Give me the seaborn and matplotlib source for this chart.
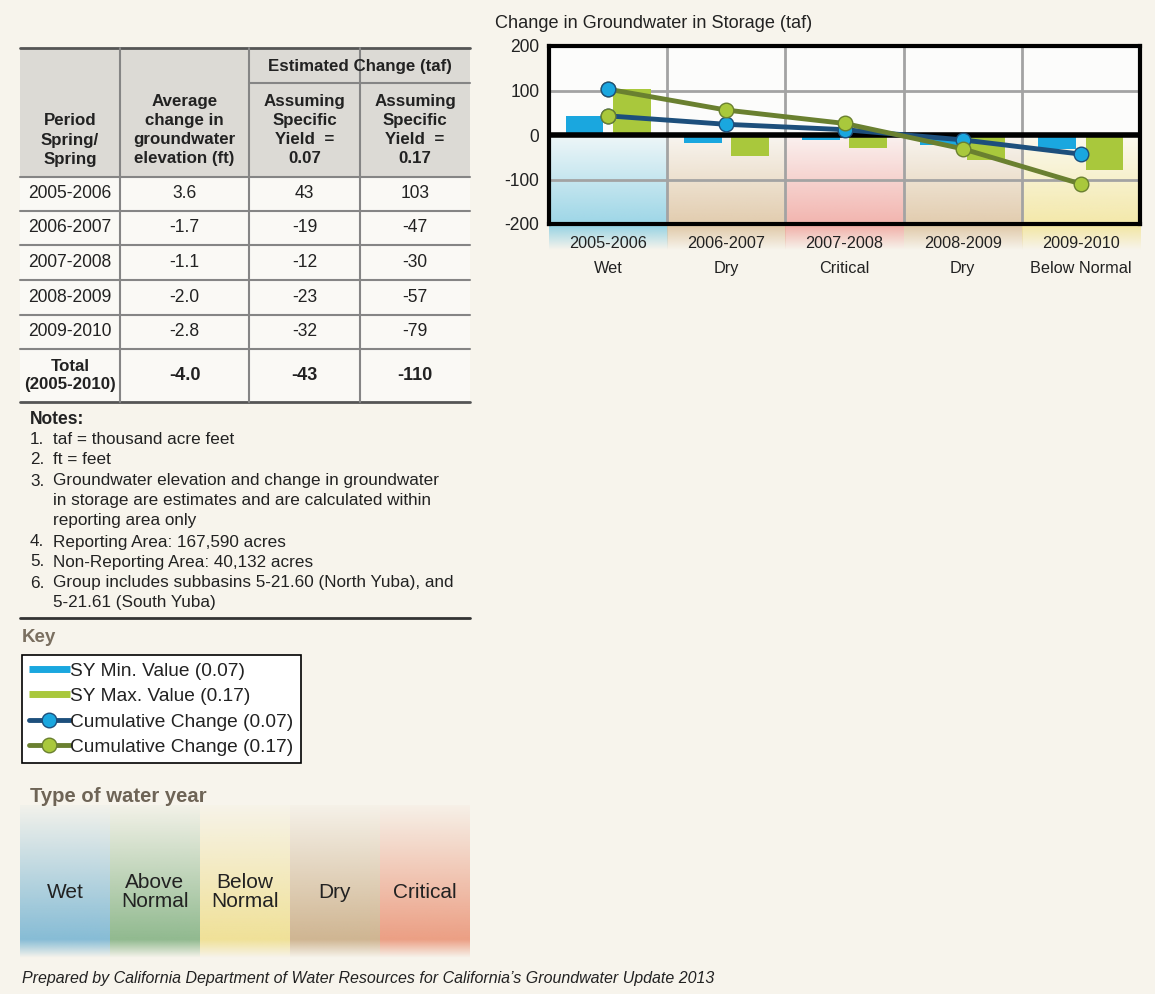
import numpy as np
import pandas as pd
import matplotlib
matplotlib.use("Agg")
import matplotlib.pyplot as plt
import seaborn as sns
from matplotlib import font_manager
from matplotlib.lines import Line2D
from matplotlib.patches import Rectangle
from matplotlib.colors import to_rgb

# data
periods = ["2005-2006", "2006-2007", "2007-2008", "2008-2009", "2009-2010"]
year_types = ["Wet", "Dry", "Critical", "Dry", "Below Normal"]
elev_change = ["3.6", "-1.7", "-1.1", "-2.0", "-2.8"]
sy_min = [43, -19, -12, -23, -32]
sy_max = [103, -47, -30, -57, -79]
total_label = "Total\n(2005-2010)"
total_elev = "-4.0"
total_min = -43
total_max = -110
y_ticks = [-200, -100, 0, 100, 200]
key_types = ["Wet", "Above Normal", "Below Normal", "Dry", "Critical"]
series_names = ["SY Min. Value (0.07)", "SY Max. Value (0.17)",
                "Cumulative Change (0.07)", "Cumulative Change (0.17)"]
notes = [("1.", "taf = thousand acre feet"),
         ("2.", "ft = feet"),
         ("3.", "Groundwater elevation and change in groundwater"),
         ("", "in storage are estimates and are calculated within"),
         ("", "reporting area only"),
         ("4.", "Reporting Area: 167,590 acres"),
         ("5.", "Non-Reporting Area: 40,132 acres"),
         ("6.", "Group includes subbasins 5-21.60 (North Yuba), and"),
         ("", "5-21.61 (South Yuba)")]

cum_min = np.cumsum(sy_min)
cum_max = np.cumsum(sy_max)

# colours
bg_col = "#f7f4ec"
blue = "#1aa7df"
green = "#a9c83c"
navy = "#1d4f7c"
olive = "#6a8030"
chart_shade = {"Wet": "#86cde2", "Dry": "#dcc19c", "Critical": "#f0a39c", "Below Normal": "#f2e496"}
key_shade = {"Wet": "#74b3d2", "Above Normal": "#80b080", "Below Normal": "#efde8a",
             "Dry": "#c9ab83", "Critical": "#ea9173"}
txt = "#222222"

sns.set_theme(style="white")
names = {f.name for f in font_manager.fontManager.ttflist}
if "Liberation Sans Narrow" in names:
    narrow, k = "Liberation Sans Narrow", 1.0
else:
    narrow, k = "Liberation Sans", 0.87
plt.rcParams["font.family"] = ["Liberation Sans", "DejaVu Sans"]

W, H = 1155, 994
fig = plt.figure(figsize=(W / 100, H / 100), dpi=100)
fig.patch.set_facecolor(bg_col)

# background axes in pixel coordinates for the table, notes and key
bg = fig.add_axes([0, 0, 1, 1])
bg.set_zorder(0)
bg.axis("off")

# ---- chart ----
ax_l, ax_r, ax_t, ax_b = 549, 1140, 46, 224
ax = fig.add_axes([ax_l / W, 1 - ax_b / H, (ax_r - ax_l) / W, (ax_b - ax_t) / H])
ax.set_zorder(1)
ax.set_facecolor("#fcfcfb")

df = pd.DataFrame({"Period": periods * 2,
                   "Value": sy_min + sy_max,
                   "Series": [series_names[0]] * 5 + [series_names[1]] * 5})
sns.barplot(data=df, x="Period", y="Value", hue="Series", palette=[blue, green],
            width=0.8, gap=0.2, saturation=1, linewidth=0, legend=False, ax=ax, zorder=3)

# water year shading below zero
ramp = np.linspace(0.12, 0.8, 100)
for i, t in enumerate(year_types):
    grad = np.zeros((100, 1, 4))
    grad[:, 0, :3] = to_rgb(chart_shade[t])
    grad[:, 0, 3] = ramp
    ax.imshow(grad, extent=(i - 0.5, i + 0.5, -200, 0), aspect="auto", origin="upper", zorder=0.5)

for y in [-100, 100]:
    ax.axhline(y, color="#a3a3a3", lw=2, zorder=1)
for x in np.arange(0.5, 4.5, 1):
    ax.axvline(x, color="#a3a3a3", lw=2, zorder=1)
ax.axhline(0, color="black", lw=4, zorder=4)

xs = np.arange(len(periods))
ax.plot(xs, cum_min, color=navy, lw=3.5, marker="o", ms=10.5, mfc=blue, mec=navy, mew=1, zorder=5)
ax.plot(xs, cum_max, color=olive, lw=3.5, marker="o", ms=10.5, mfc=green, mec=olive, mew=1, zorder=6)
# first-year markers appear swapped in the original graphic
ax.plot(xs[0], cum_max[0], marker="o", ms=10.5, mfc=blue, mec=navy, mew=1, zorder=7)
ax.plot(xs[0], cum_min[0], marker="o", ms=10.5, mfc=green, mec=olive, mew=1, zorder=7)

ax.set_xlim(-0.5, 4.5)
ax.set_ylim(-200, 200)
ax.set_yticks(y_ticks)
ax.set_yticklabels([str(v) for v in y_ticks], fontsize=14.5 * k, family=narrow, color=txt)
ax.set_xticks(xs)
ax.set_xticklabels([f"{p}\n{t}" for p, t in zip(periods, year_types)],
                   fontsize=13.5 * k, family=narrow, color=txt, linespacing=1.8)
ax.tick_params(axis="x", length=0, pad=9)
ax.tick_params(axis="y", length=0, pad=7)
ax.set_xlabel("")
ax.set_ylabel("")
for s in ax.spines.values():
    s.set_color("black")
    s.set_linewidth(3)

# shading band under the chart
fade = np.linspace(0.9, 0.0, 50)
cw = (ax_r - ax_l) / len(periods)
for i, t in enumerate(year_types):
    grad = np.zeros((50, 1, 4))
    grad[:, 0, :3] = to_rgb(chart_shade[t])
    grad[:, 0, 3] = fade
    bg.imshow(grad, extent=(ax_l + i * cw, ax_l + (i + 1) * cw, 250, ax_b), aspect="auto", origin="upper")

bg.text(495, 23, "Change in Groundwater in Storage (taf)", fontsize=15 * k, family=narrow,
        color=txt, va="center", ha="left")

# ---- table ----
col_x = [20, 120, 249, 360, 470]
row_y = [177, 211, 245, 280, 315, 349, 402]
bg.add_patch(Rectangle((20, 48), 450, 129, facecolor="#dcdad5", edgecolor="none"))
bg.add_patch(Rectangle((20, 177), 450, 225, facecolor="#faf9f5", edgecolor="none"))
grid_c = "#858585"
bg.plot([20, 470], [48, 48], color="#555555", lw=2)
bg.plot([249, 470], [83, 83], color=grid_c, lw=1.5)
for y in row_y[:-1]:
    bg.plot([20, 470], [y, y], color=grid_c, lw=1.5)
bg.plot([20, 470], [402, 402], color="#555555", lw=2)
for x in col_x[1:-1]:
    bg.plot([x, x], [48, 402], color=grid_c, lw=1.5)

cx = [(a + b) / 2 for a, b in zip(col_x[:-1], col_x[1:])]
hdr = dict(fontsize=14 * k, family=narrow, fontweight="bold", color=txt,
           ha="center", va="center", linespacing=1.35)
bg.text(cx[0], 140, "Period\nSpring/\nSpring", **hdr)
bg.text(cx[1], 130, "Average\nchange in\ngroundwater\nelevation (ft)", **hdr)
bg.text(360, 66, "Estimated Change (taf)", **hdr)
bg.text(cx[2], 130, "Assuming\nSpecific\nYield  =\n0.07", **hdr)
bg.text(cx[3], 130, "Assuming\nSpecific\nYield  =\n0.17", **hdr)

cell = dict(fontsize=14.5 * k, family=narrow, color=txt, ha="center", va="center")
for r in range(len(periods)):
    yc = (row_y[r] + row_y[r + 1]) / 2
    bg.text(cx[0], yc, periods[r], **cell)
    bg.text(cx[1], yc, elev_change[r], **cell)
    bg.text(cx[2], yc, str(sy_min[r]), **cell)
    bg.text(cx[3], yc, str(sy_max[r]), **cell)
yc = (row_y[-2] + row_y[-1]) / 2
bg.text(cx[0], yc, total_label, **{**hdr, "linespacing": 1.2})
for c, v in zip(cx[1:], [total_elev, total_min, total_max]):
    bg.text(c, yc, str(v), **{**cell, "fontweight": "bold", "fontsize": 15 * k})

# ---- notes ----
bg.text(30, 420, "Notes:", fontsize=14.5 * k, family=narrow, fontweight="bold", color=txt, va="center")
note_y = [440, 460, 481, 501, 521, 542, 562, 583, 603]
for (num, line), y in zip(notes, note_y):
    if num:
        bg.text(30, y, num, fontsize=14.2 * k, family=narrow, color=txt, va="center")
    bg.text(53, y, line, fontsize=14.2 * k, family=narrow, color=txt, va="center")
bg.plot([20, 470], [618, 618], color="#333333", lw=2)

# ---- key ----
bg.text(22, 637, "Key", fontsize=13.5, fontweight="bold", color="#7a6f60", va="center")
handles = [Line2D([], [], color=blue, lw=5, solid_capstyle="butt"),
           Line2D([], [], color=green, lw=5, solid_capstyle="butt"),
           Line2D([], [], color=navy, lw=3.5, marker="o", ms=10.5, mfc=blue, mec=navy),
           Line2D([], [], color=olive, lw=3.5, marker="o", ms=10.5, mfc=green, mec=olive)]
leg = bg.legend(handles, series_names, loc="upper left", bbox_to_anchor=(22 / W, 1 - 655 / H),
                bbox_transform=fig.transFigure, frameon=True, fancybox=False, framealpha=1,
                facecolor="white", edgecolor="black", fontsize=13.8, handlelength=2.1,
                handletextpad=0.05, borderpad=0.38, labelspacing=0.42, borderaxespad=0)
leg.get_frame().set_linewidth(1.2)
for t in leg.get_texts():
    t.set_color(txt)

# ---- type of water year ----
bg.text(30, 797, "Type of water year", fontsize=14.6, fontweight="bold", color="#6e6456", va="center")
tt = np.linspace(0, 1, 200)
alpha = np.where(tt < 0.88, 0.04 + 0.82 * (tt / 0.88), 0.86 * (1 - (tt - 0.88) / 0.12))
kw = 90
for i, t in enumerate(key_types):
    grad = np.zeros((200, 1, 4))
    grad[:, 0, :3] = to_rgb(key_shade[t])
    grad[:, 0, 3] = alpha
    bg.imshow(grad, extent=(20 + i * kw, 20 + (i + 1) * kw, 958, 805), aspect="auto", origin="upper")
    bg.text(20 + (i + 0.5) * kw, 892, t.replace(" ", "\n"), fontsize=15, color=txt,
            ha="center", va="center", linespacing=0.95)

bg.text(22, 979, "Prepared by California Department of Water Resources for California\u2019s Groundwater Update 2013",
        fontsize=11.5, style="italic", color=txt, va="center")

bg.set_xlim(0, W)
bg.set_ylim(H, 0)

fig.savefig("out.png", dpi=100, facecolor=fig.get_facecolor())
